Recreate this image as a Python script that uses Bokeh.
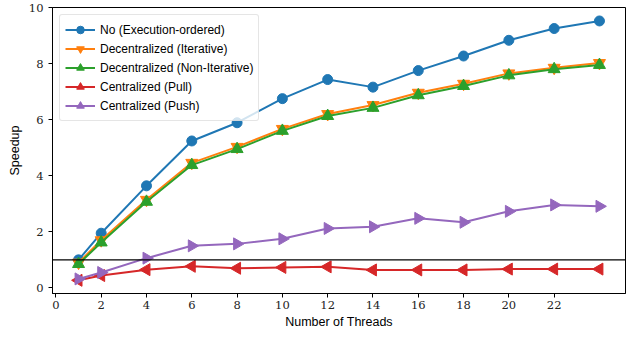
import numpy as np
from bokeh.plotting import figure
from bokeh.models import Span, Range1d, FixedTicker, Legend, LegendItem
from bokeh.embed import file_html
from bokeh.resources import INLINE

threads = [1, 2, 4, 6, 8, 10, 12, 14, 16, 18, 20, 22, 24]
no_exec = [1.0, 1.95, 3.64, 5.24, 5.89, 6.75, 7.43, 7.16, 7.75, 8.27, 8.83, 9.25, 9.52]
dec_iter = [0.9, 1.7, 3.14, 4.46, 5.03, 5.67, 6.2, 6.52, 6.96, 7.28, 7.65, 7.85, 8.02]
dec_noniter = [0.85, 1.62, 3.07, 4.38, 4.95, 5.6, 6.13, 6.42, 6.87, 7.2, 7.58, 7.8, 7.95]
cent_pull = [0.27, 0.44, 0.65, 0.77, 0.7, 0.73, 0.75, 0.64, 0.64, 0.64, 0.67, 0.67, 0.67]
cent_push = [0.32, 0.55, 1.06, 1.5, 1.57, 1.75, 2.12, 2.18, 2.48, 2.34, 2.73, 2.96, 2.91]

x_ticks = [0, 2, 4, 6, 8, 10, 12, 14, 16, 18, 20, 22]
y_ticks = [0, 2, 4, 6, 8, 10]

p = figure(width=626, height=331, output_backend="svg", toolbar_location=None,
           x_range=Range1d(-0.15, 25.15), y_range=Range1d(-0.2, 10),
           min_border_left=52, min_border_right=1, min_border_top=7, min_border_bottom=32)

p.grid.visible = False
p.outline_line_color = "black"
p.outline_line_width = 1
p.background_fill_color = "white"

serif = "DejaVu Serif"
sans = "Liberation Sans"

for ax in (p.xaxis[0], p.yaxis[0]):
    ax.major_label_text_font = serif
    ax.major_label_text_font_size = "11.5px"
    ax.major_label_text_color = "#222222"
    ax.axis_label_text_font = sans
    ax.axis_label_text_font_size = "12.5px"
    ax.axis_label_text_font_style = "normal"
    ax.axis_label_text_color = "black"
    ax.minor_tick_line_color = None
    ax.major_tick_out = 4
    ax.major_tick_in = 0
    ax.axis_line_color = "black"
    ax.major_tick_line_color = "black"

p.xaxis.ticker = FixedTicker(ticks=x_ticks)
p.yaxis.ticker = FixedTicker(ticks=y_ticks)
p.xaxis.axis_label = "Number of Threads"
p.yaxis.axis_label = "Speedup"
p.xaxis.axis_label_standoff = 3
p.yaxis.axis_label_standoff = 4
p.xaxis.major_label_standoff = 3
p.yaxis.major_label_standoff = 5

series = [
    ("No (Execution-ordered)", no_exec, "#1f77b4", "circle", 0.0, 10),
    ("Decentralized (Iterative)", dec_iter, "#ff7f0e", "inverted_triangle", 0.0, 12),
    ("Decentralized (Non-Iterative)", dec_noniter, "#2ca02c", "triangle", 0.0, 12),
    ("Centralized (Pull)", cent_pull, "#d62728", "triangle", np.pi / 2, 12),
    ("Centralized (Push)", cent_push, "#9467bd", "triangle", -np.pi / 2, 12),
]

items = []
for label, ys, color, marker, ang, sz in series:
    l = p.line(threads, ys, line_color=color, line_width=2)
    s = p.scatter(threads, ys, marker=marker, angle=ang, size=sz,
                  fill_color=color, line_color=color)
    items.append(LegendItem(label=label, renderers=[l, s]))

p.add_layout(Span(location=1, dimension="width", line_color="black", line_width=1.2))

legend = Legend(items=items, location="top_left")
legend.label_text_font = sans
legend.label_text_font_size = "12px"
legend.label_text_color = "black"
legend.glyph_width = 30
legend.glyph_height = 19
legend.label_height = 15
legend.spacing = 0
legend.padding = 5
legend.margin = 7
legend.label_standoff = 5
legend.border_line_color = "#cccccc"
legend.border_line_width = 1
legend.background_fill_alpha = 0.8
legend.border_radius = 3
p.add_layout(legend)

open("out.html", "w").write(file_html(p, INLINE))
